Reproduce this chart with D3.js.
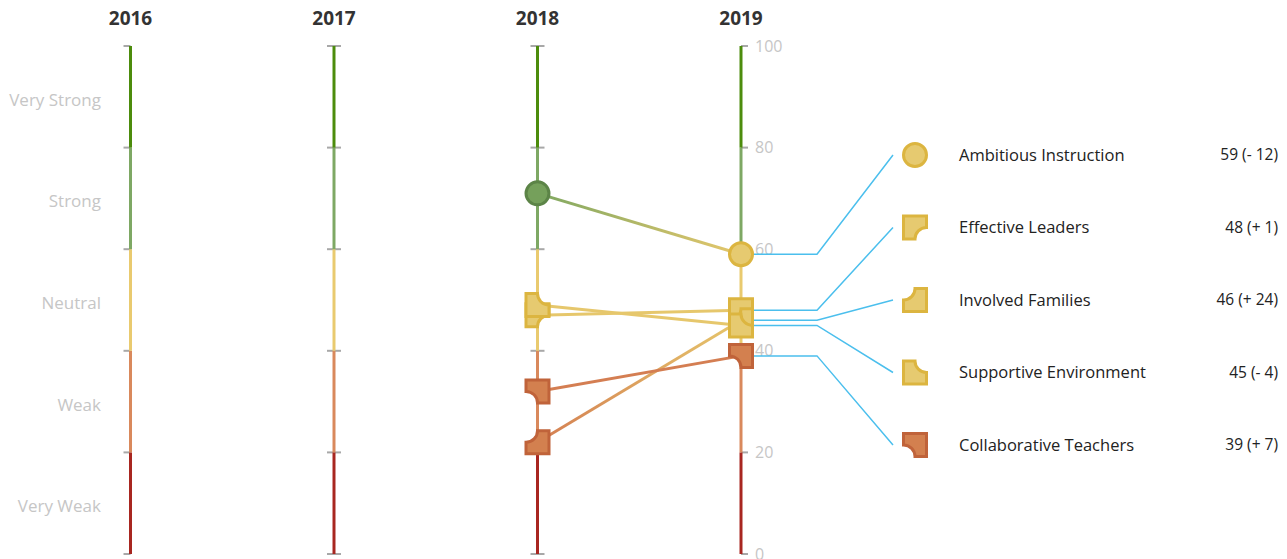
<!DOCTYPE html>
<html lang="en">

<head>
    <title>Yearly Score Chart</title>
    <meta charset="UTF-8">
    <script src="https://cdn.jsdelivr.net/npm/d3@7"></script>
    <style>
        body {
            margin: 0;
            background: #fff;
            font-family: "Open Sans", "Noto Sans", sans-serif;
        }

        .year {
            font-size: 19px;
            font-weight: bold;
            fill: #333;
        }

        .band_text {
            font-size: 17px;
            fill: #c6c6c6;
        }

        .tick_text {
            font-size: 16px;
            fill: #c6c6c6;
        }

        .legend_text {
            font-size: 16.5px;
            fill: #222;
        }

        .legend_value {
            font-size: 15.5px;
            fill: #222;
        }
    </style>
</head>

<body>
    <svg width="1287" height="559"></svg>

    <script>
        // data
        const years = ["2016", "2017", "2018", "2019"];
        const bandNames = ["Very Weak", "Weak", "Neutral", "Strong", "Very Strong"];
        const bandEdges = [0, 20, 40, 60, 80, 100];
        const bandColors = ["#a82620", "#d9895c", "#e9ca6f", "#7ea864", "#4c8c0c"];
        const tickValues = [0, 20, 40, 60, 80, 100];

        const measures = ["Ambitious Instruction", "Effective Leaders", "Involved Families",
            "Supportive Environment", "Collaborative Teachers"];
        const scores2018 = [71, 47, 22, 49, 32];
        const scores2019 = [59, 48, 46, 45, 39];
        // which corner is cut out of the square marker (null = circle)
        const notchTurn = [null, 0, 180, 270, 90];

        // marker colours by band
        const markerFill = ["#b5433c", "#d3804f", "#e6ca70", "#75a05b", "#4c8c0c"];
        const markerStroke = ["#962a24", "#c0633a", "#dcb540", "#5c8447", "#3c700a"];
        const lineColors = ["#a82620", "#d47e52", "#e6c76c", "#7fa862", "#4c8c0c"];

        let svg = d3.select("svg");

        let x = d3.scalePoint().domain(years).range([130.5, 741]);
        let y = d3.scaleLinear().domain([0, 100]).range([554, 46]);
        let legendY = d3.scalePoint().domain(measures).range([155, 445]);

        function bandOf(v) {
            return Math.min(4, Math.floor(v / 20));
        }

        // year titles
        svg.append("g").selectAll("text")
            .data(years)
            .enter()
            .append("text")
            .attr("class", "year")
            .attr("x", d => x(d))
            .attr("y", 25)
            .attr("text-anchor", "middle")
            .text(d => d);

        // band labels on the left
        svg.append("g").selectAll("text")
            .data(bandNames)
            .enter()
            .append("text")
            .attr("class", "band_text")
            .attr("x", 101)
            .attr("y", (d, i) => y((bandEdges[i] + bandEdges[i + 1]) / 2) + 3)
            .attr("dy", "0.35em")
            .attr("text-anchor", "end")
            .text(d => d);

        // axes with coloured segments
        years.forEach(function (yr, k) {
            let g = svg.append("g");
            let left = k < years.length - 1 ? 7 : 0;
            let right = k > 0 ? 7 : 0;
            g.selectAll("line.tick")
                .data(tickValues)
                .enter()
                .append("line")
                .attr("x1", x(yr) - left)
                .attr("x2", x(yr) + right)
                .attr("y1", d => y(d))
                .attr("y2", d => y(d))
                .attr("stroke", "#a8a8a8")
                .attr("stroke-width", 2);
            g.selectAll("line.seg")
                .data(bandColors)
                .enter()
                .append("line")
                .attr("x1", x(yr))
                .attr("x2", x(yr))
                .attr("y1", (d, i) => y(bandEdges[i]))
                .attr("y2", (d, i) => y(bandEdges[i + 1]))
                .attr("stroke", d => d)
                .attr("stroke-width", 3);
        });

        // tick labels on last axis
        svg.append("g").selectAll("text")
            .data(tickValues)
            .enter()
            .append("text")
            .attr("class", "tick_text")
            .attr("x", x("2019") + 14)
            .attr("y", d => y(d))
            .attr("dy", "0.35em")
            .text(d => d);

        // gradients for the change lines
        let defs = svg.append("defs");
        measures.forEach(function (m, i) {
            let grad = defs.append("linearGradient")
                .attr("id", "grad" + i)
                .attr("gradientUnits", "userSpaceOnUse")
                .attr("x1", x("2018")).attr("y1", y(scores2018[i]))
                .attr("x2", x("2019")).attr("y2", y(scores2019[i]));
            grad.append("stop").attr("offset", "0%").attr("stop-color", lineColors[bandOf(scores2018[i])]);
            grad.append("stop").attr("offset", "100%").attr("stop-color", lineColors[bandOf(scores2019[i])]);
        });

        svg.append("g").selectAll("line")
            .data(measures)
            .enter()
            .append("line")
            .attr("x1", x("2018"))
            .attr("y1", (d, i) => y(scores2018[i]))
            .attr("x2", x("2019"))
            .attr("y2", (d, i) => y(scores2019[i]))
            .attr("stroke", (d, i) => "url(#grad" + i + ")")
            .attr("stroke-width", 3);

        // connectors to legend
        svg.append("g").selectAll("path")
            .data(measures)
            .enter()
            .append("path")
            .attr("d", (d, i) => d3.line()([
                [x("2019") + 12, y(scores2019[i])],
                [817, y(scores2019[i])],
                [893, legendY(d)]
            ]))
            .attr("fill", "none")
            .attr("stroke", "#4bbfed")
            .attr("stroke-width", 1.5);

        // marker shape: square with a quarter circle cut out of one corner
        const h = 11.5;
        const notchPath = "M" + (-h) + "," + (-h) + "L" + h + "," + (-h) + "L" + h + ",0" +
            "A" + h + "," + h + " 0 0 0 0," + h + "L" + (-h) + "," + h + "Z";

        function drawMarker(g, i, cx, cy, v) {
            let b = bandOf(v);
            if (notchTurn[i] === null) {
                g.append("circle")
                    .attr("cx", cx).attr("cy", cy).attr("r", 11.5)
                    .attr("fill", markerFill[b])
                    .attr("stroke", markerStroke[b])
                    .attr("stroke-width", 3);
            } else {
                g.append("path")
                    .attr("d", notchPath)
                    .attr("transform", "translate(" + cx + "," + cy + ") rotate(" + notchTurn[i] + ")")
                    .attr("fill", markerFill[b])
                    .attr("stroke", markerStroke[b])
                    .attr("stroke-width", 3);
            }
        }

        let markers = svg.append("g");
        measures.forEach(function (m, i) {
            drawMarker(markers, i, x("2018"), y(scores2018[i]), scores2018[i]);
            drawMarker(markers, i, x("2019"), y(scores2019[i]), scores2019[i]);
        });

        // legend
        let legend = svg.append("g");
        measures.forEach(function (m, i) {
            drawMarker(legend, i, 915, legendY(m), scores2019[i]);
            let diff = scores2019[i] - scores2018[i];
            legend.append("text")
                .attr("class", "legend_text")
                .attr("x", 959)
                .attr("y", legendY(m))
                .attr("dy", "0.35em")
                .text(m);
            legend.append("text")
                .attr("class", "legend_value")
                .attr("x", 1278)
                .attr("y", legendY(m))
                .attr("dy", "0.35em")
                .attr("text-anchor", "end")
                .text(scores2019[i] + " (" + (diff < 0 ? "- " : "+ ") + Math.abs(diff) + ")");
        });
    </script>
</body>

</html>
